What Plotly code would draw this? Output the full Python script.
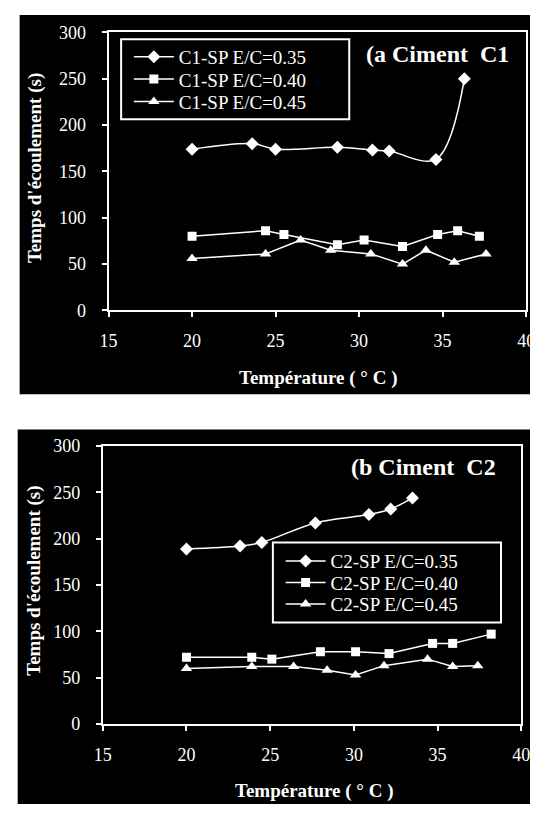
import plotly.graph_objects as go

# ---------------- data ----------------
# Panel (a) Ciment C1
a_names = ["C1-SP E/C=0.35", "C1-SP E/C=0.40", "C1-SP E/C=0.45"]
a_x035 = [20.0, 23.6, 25.0, 28.7, 30.8, 31.8, 34.6, 36.3]
a_y035 = [174, 180, 174, 176, 173, 172, 163, 250]
a_x040 = [20.0, 24.4, 25.5, 28.7, 30.3, 32.6, 34.7, 35.9, 37.2]
a_y040 = [80, 86, 82, 71, 76, 69, 82, 86, 80]
a_x045 = [20.0, 24.4, 26.5, 28.3, 30.7, 32.6, 34.0, 35.7, 37.6]
a_y045 = [56, 61, 76, 65, 61, 50, 65, 52, 61]

# Panel (b) Ciment C2
b_names = ["C2-SP E/C=0.35", "C2-SP E/C=0.40", "C2-SP E/C=0.45"]
b_x035 = [20.0, 23.2, 24.5, 27.7, 30.9, 32.2, 33.5]
b_y035 = [189, 192, 196, 217, 226, 232, 244]
b_x040 = [20.0, 23.9, 25.1, 28.0, 30.1, 32.1, 34.7, 35.9, 38.2]
b_y040 = [72, 72, 70, 78, 78, 76, 87, 87, 97]
b_x045 = [20.0, 23.9, 26.4, 28.4, 30.1, 31.8, 34.4, 35.9, 37.4]
b_y045 = [60, 62, 62, 58, 53, 63, 70, 62, 63]

x_ticks = [15, 20, 25, 30, 35, 40]
y_ticks = [0, 50, 100, 150, 200, 250, 300]

W, H = 539, 814
def px(x):
    return x / W
def py(y):
    return 1 - y / H

SERIF = "Liberation Serif, Times New Roman, serif"
WHITE = "white"

fig = go.Figure()

symbols = ["diamond", "square", "triangle-up"]
sizes = [10, 9, 10]
shapes_line = ["spline", "linear", "linear"]

panels = [
    ("x", "y", a_names, [(a_x035, a_y035), (a_x040, a_y040), (a_x045, a_y045)], ["legend", "legend2", "legend3"]),
    ("x2", "y2", b_names, [(b_x035, b_y035), (b_x040, b_y040), (b_x045, b_y045)], ["legend4", "legend5", "legend6"]),
]
for xa, ya, names, series, legs in panels:
    for i, ((xs, ys), nm) in enumerate(zip(series, names)):
        fig.add_trace(go.Scatter(
            x=xs, y=ys, name=nm, mode="lines+markers",
            xaxis=xa, yaxis=ya, legend=legs[i],
            line=dict(color=WHITE, width=1.5, shape=shapes_line[i], smoothing=1.0),
            marker=dict(symbol=symbols[i], size=sizes[i], color=WHITE,
                        line=dict(width=0)),
        ))

axis_common = dict(
    showline=True, linecolor=WHITE, linewidth=2, mirror=True,
    ticks="outside", tickcolor=WHITE, ticklen=5, tickwidth=2,
    showgrid=False, zeroline=False,
    tickfont=dict(family=SERIF, size=18, color=WHITE),
)

# legends positions (entry centers in px)
top_leg_y = [48, 71, 94]
bot_leg_y = [565, 587, 609]
leg_common = dict(bgcolor="rgba(0,0,0,0)", borderwidth=0,
                  font=dict(family=SERIF, size=19, color=WHITE),
                  xanchor="left", yanchor="middle", itemsizing="trace",
                  itemwidth=40)

layout_legends = {}
for k, yy in zip(["legend", "legend2", "legend3"], top_leg_y):
    layout_legends[k] = dict(leg_common, x=px(124), y=py(yy))
for k, yy in zip(["legend4", "legend5", "legend6"], bot_leg_y):
    layout_legends[k] = dict(leg_common, x=px(281), y=py(yy))

fig.update_layout(
    width=W, height=H,
    margin=dict(l=0, r=0, t=0, b=0),
    paper_bgcolor="white", plot_bgcolor="black",
    showlegend=True,
    xaxis=dict(axis_common, domain=[px(103), px(535)], range=[15, 40],
               tickvals=x_ticks, anchor="y", ticklabelstandoff=8),
    yaxis=dict(axis_common, domain=[py(308), py(23)], range=[0, 300],
               tickvals=y_ticks, anchor="x", ticklabelstandoff=12),
    xaxis2=dict(axis_common, domain=[px(97), px(530)], range=[15, 40],
                tickvals=x_ticks, anchor="y2", ticklabelstandoff=8),
    yaxis2=dict(axis_common, domain=[py(732), py(447)], range=[0, 300],
                tickvals=y_ticks, anchor="x2", ticklabelstandoff=12),
    **layout_legends,
)

# black panel backgrounds and legend boxes
fig.add_shape(type="rect", xref="paper", yref="paper", layer="below",
              x0=px(11), x1=px(539), y0=py(394), y1=py(5),
              fillcolor="black", line=dict(width=0))
fig.add_shape(type="rect", xref="paper", yref="paper", layer="below",
              x0=px(9), x1=px(539), y0=py(814), y1=py(430),
              fillcolor="black", line=dict(width=0))
fig.add_shape(type="rect", xref="paper", yref="paper", layer="above",
              x0=px(116), x1=px(352), y0=py(112), y1=py(30),
              line=dict(color=WHITE, width=2))
fig.add_shape(type="rect", xref="paper", yref="paper", layer="above",
              x0=px(273), x1=px(509), y0=py(628), y1=py(546),
              line=dict(color=WHITE, width=2))

title_font = dict(family=SERIF, size=19, color=WHITE)
ann = [
    dict(text="<b>Temps d'écoulement (s)</b>", x=px(27), y=py(162), textangle=-90),
    dict(text="<b>Temps d'écoulement (s)</b>", x=px(25), y=py(585), textangle=-90),
    dict(text="<b>Température ( ° C )</b>", x=px(320), y=py(377)),
    dict(text="<b>Température ( ° C )</b>", x=px(316), y=py(801)),
]
for a in ann:
    fig.add_annotation(xref="paper", yref="paper", showarrow=False,
                       xanchor="center", yanchor="middle", font=title_font, **a)

fig.add_annotation(xref="paper", yref="paper", showarrow=False,
                   x=px(367), y=py(45), xanchor="left", yanchor="middle",
                   text="<b>(a Ciment\u00a0\u00a0C1</b>",
                   font=dict(family=SERIF, size=24, color=WHITE))
fig.add_annotation(xref="paper", yref="paper", showarrow=False,
                   x=px(352), y=py(468), xanchor="left", yanchor="middle",
                   text="<b>(b Ciment\u00a0\u00a0C2</b>",
                   font=dict(family=SERIF, size=24, color=WHITE))

fig.write_html("out.html")
